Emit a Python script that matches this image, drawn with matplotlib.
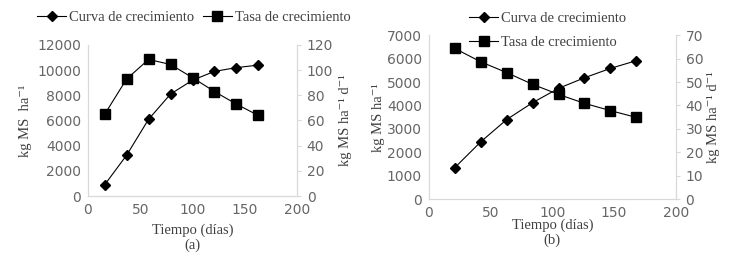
import matplotlib.pyplot as plt
import numpy as np

# ---------------------------------------------------------------- datos ----
dias_a = [16, 37, 58, 79, 100, 121, 142, 163]
curva_a = [900, 3250, 6100, 8100, 9200, 9900, 10200, 10400]
tasa_a = [65, 93, 108.5, 104.5, 94, 83, 73, 64]

dias_b = [21, 42, 63, 84, 105, 126, 147, 168]
curva_b = [1350, 2450, 3400, 4120, 4730, 5180, 5580, 5910]
tasa_b = [64.3, 58.6, 54, 49, 44.7, 40.9, 37.8, 34.9]

xticks = [0, 50, 100, 150, 200]

GRIS = "#d9d9d9"
TXT = "#666666"
SERIF = ["Liberation Serif", "DejaVu Serif"]


def panel(rect, dias, curva, tasa, ymax_l, step_l, ymax_r, step_r):
    ax = fig.add_axes(rect)
    ax2 = ax.twinx()
    l1, = ax.plot(dias, curva, color="black", lw=0.8, marker="D", ms=5,
                  label="Curva de crecimiento")
    l2, = ax2.plot(dias, tasa, color="black", lw=0.8, marker="s", ms=7.5,
                   label="Tasa de crecimiento")
    ax.set_xlim(0, 200)
    ax.set_ylim(0, ymax_l)
    ax2.set_ylim(0, ymax_r)
    ax.set_xticks(xticks)
    ax.set_yticks(np.arange(0, ymax_l + 1, step_l))
    ax2.set_yticks(np.arange(0, ymax_r + 1, step_r))
    for a in (ax, ax2):
        a.spines["top"].set_visible(False)
        for s in ("left", "right", "bottom"):
            a.spines[s].set_color(GRIS)
            a.spines[s].set_linewidth(0.8)
        a.tick_params(labelsize=10, colors=TXT, length=0, pad=5)
    ax2.tick_params(axis="y", length=3, color=GRIS, direction="out", pad=4)
    ax.patch.set_visible(False)
    return ax, ax2, l1, l2


fig = plt.figure(figsize=(7.37, 2.66), dpi=100)

# ------------------------------------------------------------- panel (a) ----
ax, ax2, l1, l2 = panel([0.1194, 0.263, 0.2836, 0.568], dias_a, curva_a, tasa_a,
                        12000, 2000, 120, 20)
ax.set_ylabel("kg MS  ha\u207b\u00b9", family=SERIF, fontsize=10.5, color="#404040", labelpad=4)
ax2.set_ylabel("kg MS ha\u207b\u00b9 d\u207b\u00b9", family=SERIF, fontsize=10.5, color="#404040", labelpad=4)
ax.set_xlabel("Tiempo (días)\n(a)", family=SERIF, fontsize=10.5, color="#404040",
              labelpad=5, linespacing=1.1)
fig.legend([l1, l2], ["Curva de crecimiento", "Tasa de crecimiento"],
           loc="center", bbox_to_anchor=(0.263, 0.935), ncol=2, frameon=False,
           prop={"family": SERIF, "size": 10.5}, handlelength=2.0,
           columnspacing=0.6, handletextpad=0.2, labelcolor="#404040")

# ------------------------------------------------------------- panel (b) ----
bx, bx2, m1, m2 = panel([0.582, 0.251, 0.335, 0.617], dias_b, curva_b, tasa_b,
                        7000, 1000, 70, 10)
bx.set_ylabel("kg MS ha\u207b\u00b9", family=SERIF, fontsize=10.5, color="#404040", labelpad=1)
bx2.set_ylabel("kg MS ha\u207b\u00b9 d\u207b\u00b9", family=SERIF, fontsize=10.5, color="#404040", labelpad=3)
bx.set_xlabel("Tiempo (días)\n(b)", family=SERIF, fontsize=10.5, color="#404040",
              labelpad=-1, linespacing=1.1)
fig.legend([m1, m2], ["Curva de crecimiento", "Tasa de crecimiento"],
           loc="center", bbox_to_anchor=(0.743, 0.885), ncol=1, frameon=False,
           prop={"family": SERIF, "size": 10.5}, handlelength=2.0,
           handletextpad=0.2, labelspacing=0.75, labelcolor="#404040")

fig.savefig("out.png", dpi=100)
